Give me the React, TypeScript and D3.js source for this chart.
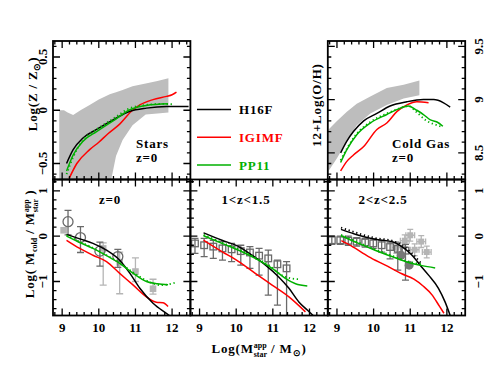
import React from "react";
import * as d3 from "d3";

// ---- data ----
// top-left: stellar metallicity, z=0
const starsBandX = [8.92, 9.05, 9.15, 9.3, 9.5, 9.75, 10.0, 10.3, 10.34, 10.47, 10.65, 10.92, 11.28, 11.6, 11.9];
const starsBandHi = [0.0, 0.0, -0.02, -0.045, 0.0, 0.05, 0.1, 0.15, 0.155, 0.17, 0.19, 0.225, 0.25, 0.275, 0.3];
const starsBandLo = [-0.8, -0.8, -0.8, -0.8, -0.8, -0.8, -0.8, -0.8, -0.65, -0.43, -0.28, -0.14, -0.04, -0.03, -0.02];
const starsH16FX = [9.12, 9.3, 9.57, 9.94, 10.39, 10.85, 11.3, 11.85, 12.45];
const starsH16FY = [-0.5, -0.37, -0.26, -0.18, -0.09, -0.01, 0.02, 0.035, 0.035];
const starsPP11X = [9.12, 9.3, 9.57, 9.94, 10.39, 10.85, 11.3, 11.89];
const starsPP11Y = [-0.57, -0.42, -0.29, -0.2, -0.1, 0.005, 0.045, 0.06];
const starsPP11DotX = [9.12, 9.3, 9.57, 9.94, 10.39, 10.85, 11.3, 11.7, 12.05];
const starsPP11DotY = [-0.6, -0.44, -0.28, -0.18, -0.08, 0.02, 0.05, 0.06, 0.055];
const starsIGIMFX = [9.19, 9.4, 9.75, 10.0, 10.25, 10.57, 10.89, 11.12, 11.48, 11.85, 12.0, 12.12];
const starsIGIMFY = [-0.64, -0.5, -0.37, -0.3, -0.22, -0.13, -0.01, 0.05, 0.1, 0.13, 0.145, 0.17];

// top-right: gas-phase oxygen abundance, z=0
const gasBandX = [8.77, 9.0, 9.27, 9.54, 9.91, 10.36, 10.82, 11.25];
const gasBandHi = [8.72, 8.8, 8.885, 8.96, 9.03, 9.11, 9.14, 9.18];
const gasBandLo = [8.33, 8.45, 8.61, 8.76, 8.87, 8.95, 9.01, 9.04];
const gasH16FX = [9.1, 9.27, 9.45, 9.73, 10.09, 10.45, 10.91, 11.36, 11.64, 11.91, 12.09];
const gasH16FY = [8.5, 8.61, 8.7, 8.8, 8.87, 8.94, 8.98, 9.0, 9.0, 8.97, 8.93];
const gasPP11X = [9.1, 9.27, 9.54, 9.91, 10.36, 10.73, 10.95, 11.18, 11.36, 11.55, 11.73, 11.89];
const gasPP11Y = [8.41, 8.53, 8.67, 8.78, 8.86, 8.92, 8.94, 8.9, 8.86, 8.81, 8.79, 8.75];
const gasPP11DotX = [9.1, 9.27, 9.54, 9.91, 10.36, 10.73, 10.95, 11.18, 11.45, 11.73, 11.89];
const gasPP11DotY = [8.43, 8.54, 8.68, 8.79, 8.87, 8.92, 8.94, 8.88, 8.8, 8.76, 8.74];
const gasIGIMFX = [9.1, 9.27, 9.45, 9.73, 10.09, 10.36, 10.64, 10.91, 11.18, 11.5];
const gasIGIMFY = [8.33, 8.42, 8.48, 8.56, 8.72, 8.78, 8.89, 8.95, 8.98, 8.97];

// bottom-left: cold gas fraction, z=0
const lowH16FX = [9.12, 9.48, 9.84, 10.21, 10.57, 10.85, 11.12, 11.48, 11.89, 12.0];
const lowH16FY = [0.04, -0.06, -0.16, -0.31, -0.53, -0.82, -1.15, -1.48, -1.73, -1.8];
const lowPP11X = [9.12, 9.48, 9.84, 10.21, 10.57, 10.94, 11.3, 11.6, 11.89];
const lowPP11Y = [0.0, -0.14, -0.27, -0.43, -0.6, -0.82, -1.0, -1.05, -1.07];
const lowPP11DotX = [9.12, 9.48, 9.84, 10.21, 10.57, 10.94, 11.3, 11.7, 12.07];
const lowPP11DotY = [0.02, -0.12, -0.26, -0.42, -0.59, -0.8, -0.98, -1.08, -1.03];
const lowIGIMFX = [9.12, 9.48, 9.84, 10.21, 10.57, 10.94, 11.3, 11.57, 11.75, 11.89];
const lowIGIMFY = [-0.09, -0.27, -0.42, -0.56, -0.82, -1.08, -1.34, -1.46, -1.47, -1.55];
const lowCircX = [9.16, 9.5, 10.03, 10.52];
const lowCircY = [0.32, -0.03, -0.33, -0.45];
const lowCircHi = [0.57, 0.21, -0.13, -0.29];
const lowCircLo = [0.03, -0.36, -0.66, -0.69];
const lowSqX = [9.04, 10.12, 10.57, 11.0, 11.48];
const lowSqY = [0.13, -0.27, -0.58, -0.78, -1.16];
const lowSqHi = [0.13, -0.15, -0.35, -0.48, -0.95];
const lowSqLo = [0.13, -1.08, -1.27, -1.0, -1.28];

// bottom-middle: 1<z<1.5
const midH16FX = [9.11, 9.61, 10.07, 10.43, 10.8, 11.16, 11.44, 11.71, 11.94, 12.1];
const midH16FY = [0.075, -0.09, -0.23, -0.42, -0.64, -0.9, -1.15, -1.45, -1.63, -1.75];
const midPP11X = [9.11, 9.61, 10.07, 10.52, 10.98, 11.34, 11.62, 11.94];
const midPP11Y = [0.01, -0.16, -0.31, -0.49, -0.71, -0.93, -1.05, -1.1];
const midPP11DotX = [9.11, 9.61, 10.07, 10.52, 10.98, 11.16, 11.44, 11.71];
const midPP11DotY = [0.03, -0.14, -0.29, -0.47, -0.69, -0.82, -0.92, -0.95];
const midIGIMFX = [9.11, 9.61, 10.07, 10.52, 10.98, 11.44, 11.89];
const midIGIMFY = [-0.09, -0.34, -0.56, -0.82, -1.08, -1.34, -1.67];
const midObsX = [8.875, 9.125, 9.375, 9.625, 9.875, 10.125, 10.375, 10.625, 10.875, 11.125, 11.375];
const midObsY = [-0.16, -0.2, -0.23, -0.27, -0.29, -0.33, -0.36, -0.43, -0.49, -0.62, -0.71];
const midObsHi = [-0.05, -0.05, -0.09, -0.12, -0.16, -0.2, -0.23, -0.27, -0.31, -0.53, -0.56];
const midObsLo = [-0.38, -0.45, -0.49, -0.53, -0.56, -0.64, -0.71, -0.86, -1.3, -1.52, -1.8];

// bottom-right: 2<z<2.5
const hiH16FX = [9.11, 9.59, 10.04, 10.5, 10.77, 11.05, 11.27, 11.5, 11.77, 11.95, 12.09];
const hiH16FY = [0.15, 0.02, -0.07, -0.12, -0.23, -0.42, -0.64, -0.86, -1.15, -1.45, -1.75];
const hiH16FDotX = [9.11, 9.59, 10.04, 10.5, 10.77, 11.05, 11.3];
const hiH16FDotY = [0.19, 0.06, -0.04, -0.1, -0.2, -0.38, -0.6];
const hiPP11X = [9.11, 9.59, 10.04, 10.5, 10.95, 11.32, 11.68];
const hiPP11Y = [0.01, -0.16, -0.31, -0.45, -0.58, -0.65, -0.7];
const hiPP11DotX = [9.11, 9.59, 10.04, 10.5, 10.95, 11.32];
const hiPP11DotY = [0.03, -0.14, -0.29, -0.43, -0.56, -0.62];
const hiIGIMFX = [9.12, 9.4, 9.86, 10.32, 10.77, 11.1, 11.35, 11.6, 11.8, 11.92];
const hiIGIMFY = [-0.1, -0.22, -0.45, -0.64, -0.83, -0.95, -1.1, -1.3, -1.55, -1.7];
const hiObsX = [8.86, 9.09, 9.31, 9.54, 9.77, 9.99, 10.22, 10.45, 10.66, 10.87];
const hiObsY = [-0.09, -0.09, -0.1, -0.12, -0.14, -0.16, -0.2, -0.24, -0.28, -0.32];
const hiObsHi = [0.0, 0.0, 0.0, -0.03, -0.05, -0.06, -0.1, -0.13, -0.15, -0.18];
const hiObsLo = [-0.18, -0.18, -0.2, -0.22, -0.24, -0.27, -0.35, -0.5, -0.75, -0.97];
const hiDiscX = [10.75, 10.97];
const hiDiscY = [-0.42, -0.64];
const hiCrossX = [10.62, 10.85, 11.0, 11.12, 11.3, 11.45];
const hiCrossY = [-0.25, -0.1, 0.02, -0.3, -0.12, -0.35];

const legendLabels = ["H16F", "IGIMF", "PP11"];
const legendColors = ["#000000", "#ff0000", "#00b000"];
const massTicks = [9, 10, 11, 12];

// ---- layout ----
const W = 491, H = 368;
const L0 = 53, PW = 137.4;
const TOP = 41, MID = 179.5, BOT = 315.5;
const FONT = "'Liberation Serif', 'Times New Roman', serif";
const RED = "#ff0000", GREEN = "#00b000", BAND = "#bdbdbd", DARK = "#6a6a6a", LIGHT = "#b5b5b5";

const pts = (xs: number[], ys: number[]) => xs.map((x, i) => [x, ys[i]] as [number, number]);

type PanelDef = { id: string; col: number; top: number; bottom: number; yDomain: [number, number]; yMajor: number; yMinor: number; };

const makeScales = (p: PanelDef) => {
  const left = L0 + p.col * PW;
  const x = d3.scaleLinear().domain([8.75, 12.5]).range([left, left + PW]);
  const y = d3.scaleLinear().domain(p.yDomain).range([p.bottom, p.top]);
  return { x, y, left };
};

const Frame = ({ p }: { p: PanelDef }) => {
  const { x, y, left } = makeScales(p);
  const xt = d3.range(44, 63).map(i => i * 0.2);
  const n0 = Math.ceil(p.yDomain[0] / p.yMinor - 1e-6), n1 = Math.floor(p.yDomain[1] / p.yMinor + 1e-6);
  const yt = d3.range(n0, n1 + 1).map(i => i * p.yMinor);
  const isMaj = (v: number, step: number) => Math.abs(v / step - Math.round(v / step)) < 1e-6;
  const right = left + PW;
  const segs: string[] = [];
  xt.forEach(v => {
    const len = isMaj(v, 1) ? 7 : 3.5;
    segs.push(`M${x(v)},${p.bottom}v${-len}M${x(v)},${p.top}v${len}`);
  });
  yt.forEach(v => {
    const len = isMaj(v, p.yMajor) ? 7 : 3.5;
    segs.push(`M${left},${y(v)}h${len}M${right},${y(v)}h${-len}`);
  });
  return (
    <g>
      <path d={segs.join("")} stroke="#000" strokeWidth={1.3} fill="none" />
      <rect x={left} y={p.top} width={PW} height={p.bottom - p.top} fill="none" stroke="#000" strokeWidth={1.8} />
    </g>
  );
};

const Curve = ({ p, xs, ys, color, dotted }: { p: PanelDef; xs: number[]; ys: number[]; color: string; dotted?: boolean }) => {
  const { x, y } = makeScales(p);
  const line = d3.line<[number, number]>().x(d => x(d[0])).y(d => y(d[1])).curve(d3.curveMonotoneX);
  return (
    <path d={line(pts(xs, ys)) || ""} fill="none" stroke={color} strokeWidth={dotted ? 1.8 : 1.5}
      strokeDasharray={dotted ? "1.3,2.7" : undefined} clipPath={`url(#clip-${p.id})`} />
  );
};

const Band = ({ p, xs, lo, hi }: { p: PanelDef; xs: number[]; lo: number[]; hi: number[] }) => {
  const { x, y } = makeScales(p);
  const area = d3.area<number>().x((d, i) => x(xs[i])).y0((d, i) => y(lo[i])).y1((d, i) => y(hi[i]));
  return <path d={area(xs) || ""} fill={BAND} stroke="none" clipPath={`url(#clip-${p.id})`} />;
};

const ErrBars = ({ p, xs, ys, lo, hi, color, marker }: { p: PanelDef; xs: number[]; ys: number[]; lo: number[]; hi: number[]; color: string; marker: "open-square" | "filled-square" | "open-circle" }) => {
  const { x, y } = makeScales(p);
  return (
    <g clipPath={`url(#clip-${p.id})`} stroke={color} strokeWidth={1.3} fill="none">
      {xs.map((xv, i) => {
        const cx = x(xv), cy = y(ys[i]), y0 = y(lo[i]), y1 = y(hi[i]);
        const cap = 3.5;
        return (
          <g key={i}>
            {lo[i] !== hi[i] && (
              <path d={`M${cx},${y0}V${y1}M${cx - cap},${y0}h${2 * cap}M${cx - cap},${y1}h${2 * cap}`} />
            )}
            {marker === "open-square" && <rect x={cx - 3.3} y={cy - 3.3} width={6.6} height={6.6} fill="none" />}
            {marker === "filled-square" && <rect x={cx - 3.3} y={cy - 3.3} width={6.6} height={6.6} fill={color} stroke="none" />}
            {marker === "open-circle" && <circle cx={cx} cy={cy} r={5} fill="none" />}
          </g>
        );
      })}
    </g>
  );
};

const panels: PanelDef[] = [
  { id: "stars", col: 0, top: TOP, bottom: MID, yDomain: [-0.65, 0.65], yMajor: 0.5, yMinor: 0.1 },
  { id: "gas", col: 2, top: TOP, bottom: MID, yDomain: [8.25, 9.55], yMajor: 0.5, yMinor: 0.1 },
  { id: "low", col: 0, top: MID, bottom: BOT, yDomain: [-1.75, 1.25], yMajor: 1, yMinor: 0.2 },
  { id: "mid", col: 1, top: MID, bottom: BOT, yDomain: [-1.75, 1.25], yMajor: 1, yMinor: 0.2 },
  { id: "high", col: 2, top: MID, bottom: BOT, yDomain: [-1.75, 1.25], yMajor: 1, yMinor: 0.2 },
];
const [pStars, pGas, pLow, pMid, pHigh] = panels;

const fmt = (v: number) => (v < 0 ? "\u2212" : "") + String(Math.abs(+v.toFixed(2)));

const YTickLabels = ({ p, values, side }: { p: PanelDef; values: number[]; side: "left" | "right" }) => {
  const { y } = makeScales(p);
  const bx = side === "left" ? 46.5 : 483;
  return (
    <g fontFamily={FONT} fontWeight="bold" fontSize={13} textAnchor="middle">
      {values.map(v => (
        <text key={v} transform={`translate(${bx},${y(v)}) rotate(-90)`}>{fmt(v)}</text>
      ))}
    </g>
  );
};

const XTickLabels = ({ p }: { p: PanelDef }) => {
  const { x } = makeScales(p);
  return (
    <g fontFamily={FONT} fontWeight="bold" fontSize={13} textAnchor="middle">
      {massTicks.map(v => <text key={v} x={x(v)} y={332}>{v}</text>)}
    </g>
  );
};

export default function App() {
  const legendY = d3.scalePoint<string>().domain(legendLabels).range([109.5, 165]);
  const { x: hx, y: hy } = makeScales(pHigh);
  return (
    <div style={{ position: "absolute", left: 0, top: 0 }}>
      <svg width={W} height={H} style={{ display: "block", background: "#fff" }}>
        <defs>
          {panels.map(p => {
            const { left } = makeScales(p);
            return (
              <clipPath key={p.id} id={`clip-${p.id}`}>
                <rect x={left} y={p.top} width={PW} height={p.bottom - p.top} />
              </clipPath>
            );
          })}
        </defs>

        {/* stars */}
        <Band p={pStars} xs={starsBandX} lo={starsBandLo} hi={starsBandHi} />
        <Curve p={pStars} xs={starsIGIMFX} ys={starsIGIMFY} color={RED} />
        <Curve p={pStars} xs={starsH16FX} ys={starsH16FY} color="#000" />
        <Curve p={pStars} xs={starsPP11DotX} ys={starsPP11DotY} color={GREEN} dotted />
        <Curve p={pStars} xs={starsPP11X} ys={starsPP11Y} color={GREEN} />

        {/* cold gas */}
        <Band p={pGas} xs={gasBandX} lo={gasBandLo} hi={gasBandHi} />
        <Curve p={pGas} xs={gasIGIMFX} ys={gasIGIMFY} color={RED} />
        <Curve p={pGas} xs={gasH16FX} ys={gasH16FY} color="#000" />
        <Curve p={pGas} xs={gasPP11DotX} ys={gasPP11DotY} color={GREEN} dotted />
        <Curve p={pGas} xs={gasPP11X} ys={gasPP11Y} color={GREEN} />

        {/* z = 0 */}
        <ErrBars p={pLow} xs={lowSqX} ys={lowSqY} lo={lowSqLo} hi={lowSqHi} color={LIGHT} marker="filled-square" />
        <ErrBars p={pLow} xs={lowCircX} ys={lowCircY} lo={lowCircLo} hi={lowCircHi} color={DARK} marker="open-circle" />
        <Curve p={pLow} xs={lowIGIMFX} ys={lowIGIMFY} color={RED} />
        <Curve p={pLow} xs={lowH16FX} ys={lowH16FY} color="#000" />
        <Curve p={pLow} xs={lowPP11DotX} ys={lowPP11DotY} color={GREEN} dotted />
        <Curve p={pLow} xs={lowPP11X} ys={lowPP11Y} color={GREEN} />

        {/* 1<z<1.5 */}
        <ErrBars p={pMid} xs={midObsX} ys={midObsY} lo={midObsLo} hi={midObsHi} color={DARK} marker="open-square" />
        <Curve p={pMid} xs={midIGIMFX} ys={midIGIMFY} color={RED} />
        <Curve p={pMid} xs={midH16FX} ys={midH16FY} color="#000" />
        <Curve p={pMid} xs={midPP11DotX} ys={midPP11DotY} color={GREEN} dotted />
        <Curve p={pMid} xs={midPP11X} ys={midPP11Y} color={GREEN} />

        {/* 2<z<2.5 */}
        <g stroke={LIGHT} strokeWidth={1.3} fill={LIGHT} clipPath="url(#clip-high)">
          {hiCrossX.map((xv, i) => {
            const cx = hx(xv), cy = hy(hiCrossY[i]);
            const dx = hx(xv + 0.12) - cx, dy = hy(hiCrossY[i] - 0.13) - cy;
            return (
              <g key={i}>
                <path fill="none" d={`M${cx - dx},${cy}H${cx + dx}M${cx},${cy - dy}V${cy + dy}M${cx - dx},${cy - 3}v6M${cx + dx},${cy - 3}v6M${cx - 3},${cy - dy}h6M${cx - 3},${cy + dy}h6`} />
                <rect x={cx - 3} y={cy - 3} width={6} height={6} stroke="none" />
              </g>
            );
          })}
        </g>
        <ErrBars p={pHigh} xs={hiObsX} ys={hiObsY} lo={hiObsLo} hi={hiObsHi} color={DARK} marker="open-square" />
        <g fill="#777">
          {hiDiscX.map((xv, i) => <circle key={i} cx={hx(xv)} cy={hy(hiDiscY[i])} r={4.5} />)}
        </g>
        <Curve p={pHigh} xs={hiIGIMFX} ys={hiIGIMFY} color={RED} />
        <Curve p={pHigh} xs={hiH16FDotX} ys={hiH16FDotY} color="#000" dotted />
        <Curve p={pHigh} xs={hiH16FX} ys={hiH16FY} color="#000" />
        <Curve p={pHigh} xs={hiPP11DotX} ys={hiPP11DotY} color={GREEN} dotted />
        <Curve p={pHigh} xs={hiPP11X} ys={hiPP11Y} color={GREEN} />

        {panels.map(p => <Frame key={p.id} p={p} />)}

        {/* legend */}
        <g fontFamily={FONT} fontWeight="bold" fontSize={13} letterSpacing={0.8}>
          {legendLabels.map((lab, i) => (
            <g key={lab}>
              <line x1={197} x2={231} y1={legendY(lab)} y2={legendY(lab)} stroke={legendColors[i]} strokeWidth={1.5} />
              <text x={239} y={(legendY(lab) || 0) + 4.5} fill={legendColors[i]}>{lab}</text>
            </g>
          ))}
        </g>

        {/* tick labels */}
        <YTickLabels p={pStars} values={[-0.5, 0, 0.5]} side="left" />
        <YTickLabels p={pGas} values={[8.5, 9, 9.5]} side="right" />
        <YTickLabels p={pLow} values={[-1, 0, 1]} side="left" />
        <YTickLabels p={pHigh} values={[-1, 0, 1]} side="right" />
        <XTickLabels p={pLow} />
        <XTickLabels p={pMid} />
        <XTickLabels p={pHigh} />

        {/* panel annotations */}
        <g fontFamily={FONT} fontWeight="bold" fontSize={13} letterSpacing={0.8}>
          <text x={136} y={148}>Stars</text>
          <text x={136} y={162}>z=0</text>
          <text x={392} y={148}>Cold  Gas</text>
          <text x={392} y={162}>z=0</text>
          <text x={110} y={204} textAnchor="middle">z=0</text>
          <text x={246} y={204} textAnchor="middle">1&lt;z&lt;1.5</text>
          <text x={383} y={204} textAnchor="middle">2&lt;z&lt;2.5</text>
        </g>

        {/* axis titles */}
        <g fontFamily={FONT} fontWeight="bold" fontSize={13} letterSpacing={0.8}>
          <text transform="translate(37,94) rotate(-90)" textAnchor="middle">
            Log(Z / Z<tspan fontSize={9} dy={3}>⊙</tspan><tspan dy={-3}>)</tspan>
          </text>
          <text transform="translate(321,105) rotate(-90)" textAnchor="middle">12+Log(O/H)</text>
          <text transform="translate(34,244) rotate(-90)" textAnchor="middle">
            Log( M<tspan fontSize={8} letterSpacing={0} dy={3}>cold</tspan>
            <tspan dy={-3}> / M</tspan>
            <tspan fontSize={8} letterSpacing={0} dy={-5}>app</tspan>
            <tspan fontSize={8} letterSpacing={0} dx={-13} dy={9}>star</tspan>
            <tspan dy={-4}> )</tspan>
          </text>
          <text x={259} y={353} textAnchor="middle">
            Log(M<tspan fontSize={8} letterSpacing={0} dy={-5}>app</tspan>
            <tspan fontSize={8} letterSpacing={0} dx={-13} dy={9}>star</tspan>
            <tspan dy={-4}> / M</tspan>
            <tspan fontSize={9} dy={3}>⊙</tspan>
            <tspan dy={-3}>)</tspan>
          </text>
        </g>
      </svg>
    </div>
  );
}
